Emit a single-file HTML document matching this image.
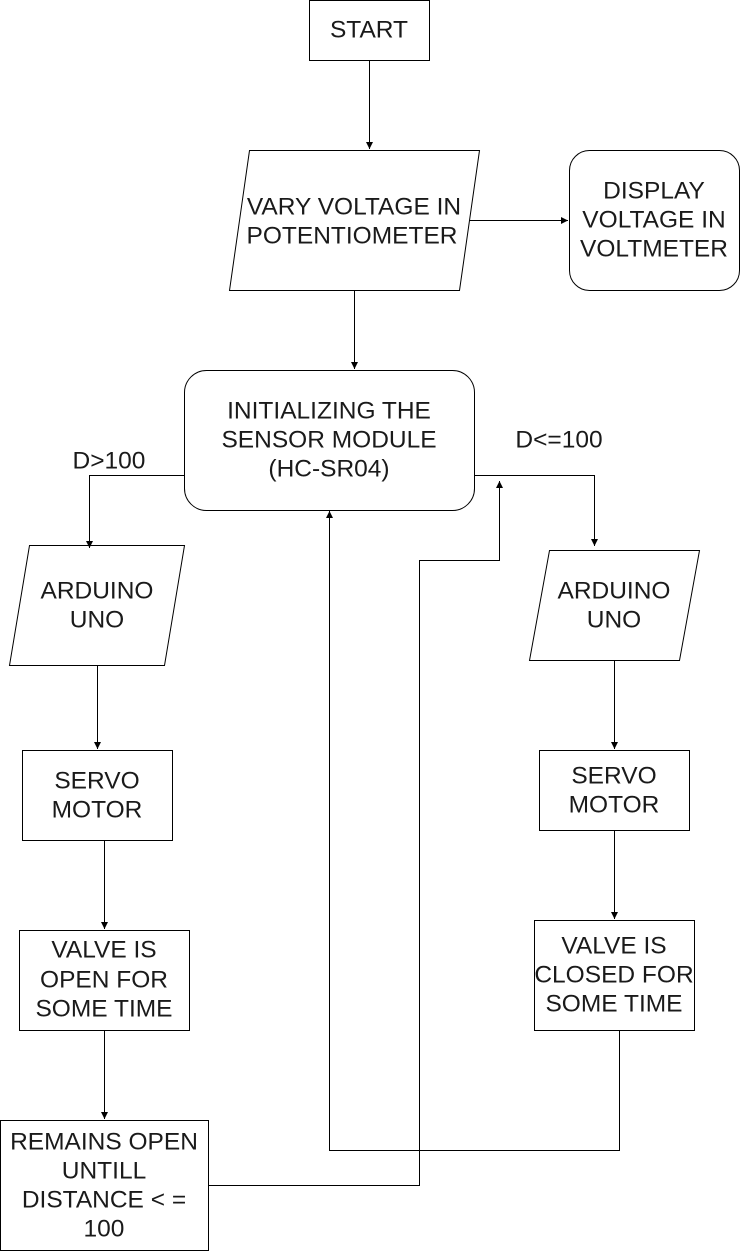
<!DOCTYPE html>
<html><head><meta charset="utf-8"><style>
html,body{margin:0;padding:0;background:#fff;}
svg{display:block;}
text{font-family:"Liberation Sans",sans-serif;font-size:24.5px;fill:#1a1a1a;text-anchor:middle;dominant-baseline:central;}
</style></head><body>
<svg width="740" height="1251" viewBox="0 0 740 1251" xmlns="http://www.w3.org/2000/svg">
<defs><marker id="a" markerWidth="8" markerHeight="8" refX="7" refY="4" orient="auto" markerUnits="userSpaceOnUse"><path d="M0,0.5 L7,4 L0,7.5 z" fill="#000"/></marker></defs>
<g fill="#fff" stroke="#000" stroke-width="1">
<rect x="309.5" y="0.5" width="120" height="60"/>
<polygon points="249.5,150.5 479.5,150.5 459.5,290.5 229.5,290.5"/>
<rect x="569.5" y="150.5" width="170" height="140" rx="20"/>
<rect x="184.5" y="370.5" width="290" height="140" rx="22"/>
<polygon points="29.5,545.5 184.5,545.5 164.5,665.5 9.5,665.5"/>
<polygon points="549.5,550.5 699.5,550.5 679.5,660.5 529.5,660.5"/>
<rect x="22.5" y="750.5" width="150" height="90"/>
<rect x="539.5" y="750.5" width="150" height="80"/>
<rect x="19.5" y="930.5" width="170" height="100"/>
<rect x="534.5" y="920.5" width="160" height="110"/>
<rect x="0.5" y="1120.5" width="208" height="130"/>
</g>
<g fill="none" stroke="#000" stroke-width="1" marker-end="url(#a)">
<path d="M369.5,60.5 V149"/>
<path d="M469.5,220.5 H568"/>
<path d="M354.5,290.5 V369"/>
<path d="M184.5,475.5 H89.5 V548"/>
<path d="M474.5,475.5 H594.5 V546"/>
<path d="M97.5,665.5 V749"/>
<path d="M614.5,660.5 V749"/>
<path d="M104.5,840.5 V929"/>
<path d="M614.5,830.5 V919"/>
<path d="M104.5,1030.5 V1119"/>
<path d="M208.5,1185.5 H419.5 V560.5 H499.5 V481"/>
<path d="M619.5,1030.5 V1150.5 H329.5 V511"/>
</g>
<text x="354" y="207">VARY VOLTAGE IN</text>
<text x="352" y="236">POTENTIOMETER</text>
<text x="369" y="30">START</text>
<text x="654" y="191">DISPLAY</text>
<text x="654" y="220">VOLTAGE IN</text>
<text x="654" y="249">VOLTMETER</text>
<text x="329" y="411">INITIALIZING THE</text>
<text x="329" y="440">SENSOR MODULE</text>
<text x="329" y="469">(HC-SR04)</text>
<text x="109" y="461">D&gt;100</text>
<text x="559" y="440">D&lt;=100</text>
<text x="97" y="591">ARDUINO</text>
<text x="97" y="620">UNO</text>
<text x="614" y="591">ARDUINO</text>
<text x="614" y="620">UNO</text>
<text x="97" y="781">SERVO</text>
<text x="97" y="810">MOTOR</text>
<text x="614" y="776">SERVO</text>
<text x="614" y="805">MOTOR</text>
<text x="104" y="950">VALVE IS</text>
<text x="104" y="980">OPEN FOR</text>
<text x="104" y="1009">SOME TIME</text>
<text x="614" y="946">VALVE IS</text>
<text x="614" y="975">CLOSED FOR</text>
<text x="614" y="1004">SOME TIME</text>
<text x="104" y="1142">REMAINS OPEN</text>
<text x="104" y="1171">UNTILL</text>
<text x="104" y="1200">DISTANCE &lt; =</text>
<text x="104" y="1229">100</text>
</svg>
</body></html>
